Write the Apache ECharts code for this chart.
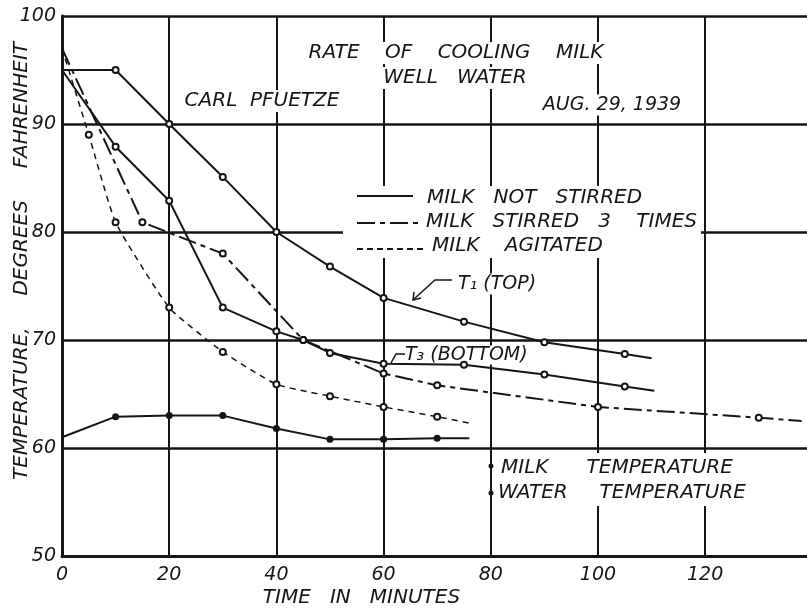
<!DOCTYPE html>
<html>
<head>
<meta charset="utf-8">
<title>Rate of cooling milk</title>
<script src="https://cdn.jsdelivr.net/npm/echarts@6/dist/echarts.min.js"></script>
<style>
  html, body { margin: 0; padding: 0; background: #fff; }
  #chart { width: 807px; height: 611px; }
</style>
</head>
<body>
<div id="chart"></div>
<script>
// readings taken off the plate (minutes, degrees F)
const topTimes = [0, 10, 20, 30, 40, 50, 60, 75, 90, 105, 110]
const topTemps = [95, 95, 90, 85.1, 80, 76.8, 73.9, 71.7, 69.8, 68.7, 68.3]

const bottomTimes = [0, 10, 20, 30, 40, 45, 50, 60, 75, 90, 105, 110.5]
const bottomTemps = [95, 87.9, 82.9, 73, 70.8, 70, 68.8, 67.8, 67.7, 66.8, 65.7, 65.3]

const stirredTimes = [0, 15, 30, 45, 60, 70, 100, 130, 138]
const stirredTemps = [97, 80.9, 78, 70, 66.9, 65.8, 63.8, 62.8, 62.5]

const agitatedTimes = [0, 5, 10, 20, 30, 40, 50, 60, 70, 76]
const agitatedTemps = [97, 89, 80.9, 73, 68.9, 65.9, 64.8, 63.8, 62.9, 62.3]

const waterTimes = [0, 10, 20, 30, 40, 50, 60, 70, 76]
const waterTemps = [61, 62.9, 63, 63, 61.8, 60.8, 60.8, 60.9, 60.9]

const xTicks = [0, 20, 40, 60, 80, 100, 120]
const yTicks = [50, 60, 70, 80, 90, 100]

const INK = '#151515'
const FONT = 'DejaVu Sans'

function pairs (xs, ys) {
  return xs.map((x, i) => [x, ys[i]])
}

// no marker on the first and last point of a curve
function markerFor (count, shape) {
  return (val, params) => (params.dataIndex === 0 || params.dataIndex === count - 1) ? 'none' : shape
}

function milkLine (name, xs, ys, dash, width, smooth) {
  return {
    name: name,
    type: 'line',
    data: pairs(xs, ys),
    smooth: smooth || false,
    symbol: markerFor(xs.length, 'emptyCircle'),
    symbolSize: 6,
    lineStyle: { color: INK, width: width, type: dash },
    itemStyle: { color: INK, borderWidth: 1.5 },
    z: 3
  }
}

// lettering sits under the curves, its white box breaks the grid
function label (text, x, y, opts) {
  return {
    type: 'text',
    x: x,
    y: y,
    z: 2,
    style: Object.assign({
      text: text,
      fill: INK,
      fontSize: 20,
      fontFamily: FONT,
      fontStyle: 'italic',
      align: 'left',
      verticalAlign: 'middle',
      backgroundColor: '#fff',
      padding: [1, 3, 1, 3]
    }, opts || {})
  }
}

function legendSample (x1, x2, y, dash) {
  return {
    type: 'line',
    z: 2,
    shape: { x1: x1, y1: y, x2: x2, y2: y },
    style: { stroke: INK, lineWidth: 2, lineDash: dash }
  }
}

const nameStyle = { color: INK, fontSize: 20, fontFamily: FONT, fontStyle: 'italic' }

const chart = echarts.init(document.getElementById('chart'), null, { renderer: 'canvas' })

chart.setOption({
  animation: false,
  backgroundColor: '#fff',
  grid: { left: 62, right: 0, top: 16, bottom: 55, containLabel: false, outerBoundsMode: 'none' },
  xAxis: {
    type: 'value',
    min: xTicks[0],
    max: 139,
    interval: xTicks[1] - xTicks[0],
    name: 'TIME   IN   MINUTES',
    nameLocation: 'middle',
    nameGap: 32,
    nameMoveOverlap: false,
    nameTextStyle: Object.assign({ padding: [0, 146, 0, 0] }, nameStyle),
    axisLine: { show: true, lineStyle: { color: INK, width: 3 } },
    axisTick: { show: false },
    axisLabel: {
      color: INK, fontSize: 19, fontFamily: FONT, fontStyle: 'italic', margin: 10,
      formatter: v => xTicks.indexOf(v) >= 0 ? String(v) : ''
    },
    splitLine: { show: true, showMaxLine: false, lineStyle: { color: INK, width: 2 } }
  },
  yAxis: {
    type: 'value',
    min: yTicks[0],
    max: yTicks[yTicks.length - 1],
    interval: yTicks[1] - yTicks[0],
    name: 'TEMPERATURE,     DEGREES     FAHRENHEIT',
    nameLocation: 'middle',
    nameRotate: 90,
    nameGap: 30,
    nameMoveOverlap: false,
    nameTextStyle: Object.assign({ padding: [0, 0, 0, 50] }, nameStyle),
    axisLine: { show: true, lineStyle: { color: INK, width: 3 } },
    axisTick: { show: false },
    axisLabel: { color: INK, fontSize: 19, fontFamily: FONT, fontStyle: 'italic', margin: 6 },
    splitLine: { show: true, lineStyle: { color: INK, width: 2.5 } }
  },
  series: [
    milkLine('Milk not stirred T1 (top)', topTimes, topTemps, 'solid', 2),
    milkLine('Milk not stirred T3 (bottom)', bottomTimes, bottomTemps, 'solid', 2),
    milkLine('Milk stirred 3 times', stirredTimes, stirredTemps, [18, 5, 5, 5], 2),
    milkLine('Milk agitated', agitatedTimes, agitatedTemps, [6, 5], 1.5, 0.15),
    {
      name: 'Water temperature',
      type: 'line',
      data: pairs(waterTimes, waterTemps),
      symbol: markerFor(waterTimes.length, 'circle'),
      symbolSize: 7,
      lineStyle: { color: INK, width: 2 },
      itemStyle: { color: INK },
      z: 3
    }
  ],
  graphic: [
    // white patches where the lettering breaks the grid
    { type: 'rect', z: 1, shape: { x: 343, y: 186, width: 358, height: 72 }, style: { fill: '#fff' } },
    { type: 'rect', z: 1, shape: { x: 496, y: 453, width: 262, height: 53 }, style: { fill: '#fff' } },

    label('RATE    OF    COOLING    MILK', 456, 53, { align: 'center' }),
    label('WELL   WATER', 455, 78, { align: 'center' }),
    label('CARL  PFUETZE', 262, 101, { align: 'center' }),
    label('AUG. 29, 1939', 612, 105, { align: 'center', fontSize: 19 }),

    legendSample(357, 413, 196, null),
    legendSample(357, 422, 223, [18, 5, 5, 5]),
    legendSample(357, 426, 249, [6, 4]),
    label('MILK   NOT   STIRRED', 424, 198, { backgroundColor: null }),
    label('MILK   STIRRED   3    TIMES', 423, 222, { backgroundColor: null }),
    label('MILK    AGITATED', 429, 246, { backgroundColor: null }),

    label('T\u2081 (TOP)', 455, 284, { fontSize: 19 }),
    {
      type: 'polyline', z: 4,
      shape: { points: [[452, 280], [435, 280], [414, 299]] },
      style: { stroke: INK, lineWidth: 1.5, fill: null }
    },
    {
      type: 'polyline', z: 4,
      shape: { points: [[414, 292], [413, 300], [421, 298]] },
      style: { stroke: INK, lineWidth: 1.5, fill: null }
    },

    label('T\u2083 (BOTTOM)', 403, 355, { fontSize: 19, padding: [0, 2, 0, 2] }),
    {
      type: 'polyline', z: 4,
      shape: { points: [[405, 354], [396, 354], [391, 363]] },
      style: { stroke: INK, lineWidth: 1.5, fill: null }
    },

    { type: 'circle', z: 4, shape: { cx: 491, cy: 466, r: 2.5 }, style: { fill: INK } },
    { type: 'circle', z: 4, shape: { cx: 491, cy: 493, r: 2.5 }, style: { fill: INK } },
    label('MILK      TEMPERATURE', 498, 468, { backgroundColor: null }),
    label('WATER     TEMPERATURE', 495, 493, { backgroundColor: null })
  ]
})
</script>
</body>
</html>
